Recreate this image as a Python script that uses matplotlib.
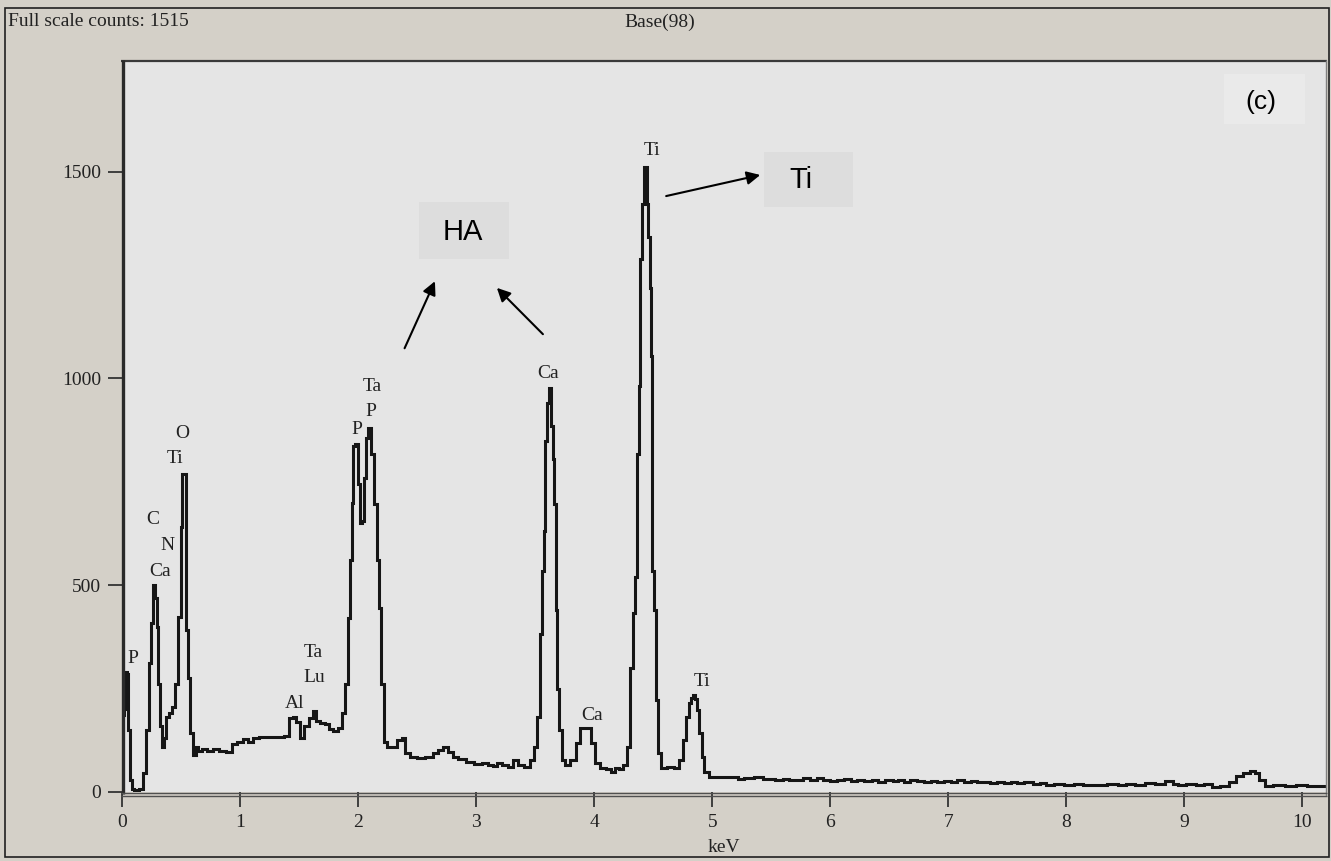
import matplotlib
matplotlib.use("Agg")
import matplotlib.pyplot as plt
from matplotlib.patches import Rectangle
from matplotlib.lines import Line2D

# ---------------- data ----------------
energy_kev = [
    0.000, 0.008, 0.025, 0.035, 0.050, 0.060, 0.072, 0.090, 0.120, 0.160,
    0.195, 0.220, 0.237, 0.254, 0.270, 0.288, 0.297, 0.314, 0.330, 0.347,
    0.364, 0.381, 0.415, 0.440, 0.466, 0.490, 0.505, 0.517, 0.534, 0.542,
    0.550, 0.568, 0.585, 0.610, 0.636, 0.660, 0.700, 0.746, 0.790, 0.850,
    0.907, 0.950, 1.000, 1.050, 1.085, 1.127, 1.186, 1.254, 1.340, 1.400,
    1.430, 1.466, 1.490, 1.525, 1.560, 1.600, 1.630, 1.660, 1.695, 1.737,
    1.770, 1.810, 1.856, 1.880, 1.900, 1.924, 1.940, 1.950, 1.966, 1.990,
    2.008, 2.025, 2.040, 2.060, 2.076, 2.100, 2.120, 2.144, 2.170, 2.186,
    2.210, 2.237, 2.254, 2.305, 2.356, 2.380, 2.415, 2.466, 2.525, 2.610,
    2.660, 2.695, 2.740, 2.780, 2.820, 2.880, 2.950, 3.017, 3.076, 3.120,
    3.160, 3.200, 3.246, 3.290, 3.330, 3.373, 3.430, 3.480, 3.500, 3.525,
    3.550, 3.568, 3.576, 3.593, 3.610, 3.627, 3.644, 3.653, 3.670, 3.678,
    3.695, 3.710, 3.737, 3.770, 3.820, 3.864, 3.898, 3.950, 3.990, 4.025,
    4.076, 4.120, 4.160, 4.195, 4.230, 4.263, 4.288, 4.314, 4.340, 4.356,
    4.373, 4.380, 4.390, 4.415, 4.424, 4.440, 4.450, 4.466, 4.475, 4.483,
    4.500, 4.517, 4.534, 4.550, 4.585, 4.644, 4.703, 4.737, 4.763, 4.788,
    4.814, 4.830, 4.847, 4.864, 4.873, 4.900, 4.924, 4.940, 5.000, 5.100,
    5.195, 5.237, 5.300, 5.407, 5.450, 5.490, 5.576, 5.620, 5.680, 5.746,
    5.800, 5.860, 5.915, 5.970, 6.030, 6.085, 6.150, 6.200, 6.254, 6.320,
    6.380, 6.424, 6.500, 6.560, 6.593, 6.650, 6.700, 6.763, 6.830, 6.880,
    6.932, 7.000, 7.050, 7.100, 7.170, 7.220, 7.270, 7.330, 7.380, 7.440,
    7.500, 7.560, 7.610, 7.680, 7.750, 7.800, 7.864, 7.930, 8.030, 8.100,
    8.180, 8.290, 8.400, 8.470, 8.540, 8.620, 8.710, 8.800, 8.880, 8.920,
    8.970, 9.050, 9.140, 9.200, 9.260, 9.350, 9.410, 9.470, 9.530, 9.580,
    9.610, 9.660, 9.710, 9.800, 9.900, 10.000, 10.070, 10.200,
]
counts = [
    0, 185, 200, 290, 285, 150, 30, 8, 4, 7,
    46, 150, 313, 408, 500, 470, 400, 262, 160, 108,
    130, 181, 190, 205, 262, 423, 640, 769, 769, 692,
    391, 275, 142, 89, 108, 100, 104, 100, 104, 100,
    97, 115, 120, 128, 122, 130, 133, 133, 133, 135,
    178, 182, 170, 130, 160, 180, 195, 172, 168, 165,
    152, 148, 155, 190, 262, 420, 560, 700, 837, 841,
    744, 651, 655, 760, 856, 880, 817, 697, 560, 446,
    262, 120, 108, 110, 125, 130, 94, 85, 82, 85,
    95, 101, 108, 97, 85, 80, 72, 68, 70, 65,
    62, 70, 65, 60, 77, 65, 60, 77, 108, 181,
    383, 535, 632, 849, 940, 977, 885, 805, 697, 439,
    250, 150, 77, 65, 77, 118, 154, 154, 118, 70,
    58, 55, 48, 58, 55, 65, 108, 301, 432, 520,
    817, 981, 1290, 1423, 1512, 1512, 1423, 1343, 1218, 1054,
    535, 439, 222, 94, 58, 60, 58, 77, 125, 181,
    215, 227, 234, 225, 198, 142, 85, 48, 36, 36,
    36, 32, 34, 36, 31, 32, 29, 32, 28, 30,
    33, 29, 34, 30, 27, 29, 31, 26, 30, 27,
    29, 25, 28, 26, 29, 25, 28, 26, 24, 27,
    24, 27, 25, 28, 24, 26, 23, 25, 22, 24,
    21, 23, 21, 24, 20, 22, 18, 20, 18, 20,
    17, 17, 19, 17, 20, 18, 22, 19, 27, 20,
    17, 19, 17, 19, 13, 15, 24, 38, 46, 51,
    46, 30, 14, 16, 15, 16, 14, 15,
]

x_ticks = [0, 1, 2, 3, 4, 5, 6, 7, 8, 9, 10]
y_ticks = [0, 500, 1000, 1500]

peak_labels = ["P", "C", "N", "Ca", "O", "Ti", "Al", "Ta", "Lu",
               "P", "Ta", "P", "Ca", "Ti", "Ca", "Ti"]
label_kev = [0.093, 0.263, 0.381, 0.322, 0.508, 0.449, 1.466, 1.619, 1.627,
             1.992, 2.119, 2.110, 3.610, 4.490, 3.983, 4.915]
label_cnt = [324, 660, 597, 532, 868, 807, 215, 338, 278,
             877, 981, 921, 1013, 1552, 186, 266]

# ---------------- figure ----------------
W, H = 1331, 861
OUTER = "#D4D0C8"
PLOTBG = "#E5E5E5"
fig = plt.figure(figsize=(W / 100, H / 100), dpi=100, facecolor=OUTER)

def fx(px):
    return px / W

def fy(py):
    return (H - py) / H

ax_l, ax_r, ax_t, ax_b = 122, 1326, 60, 792
ax = fig.add_axes([fx(ax_l), fy(ax_b), (ax_r - ax_l) / W, (ax_b - ax_t) / H])
ax.set_facecolor(PLOTBG)
ax.set_xlim(0, 10.2)
ax.set_ylim(0, 1770)

ax.plot(energy_kev, counts, color="#161616", lw=2.2, drawstyle="steps-mid",
        solid_joinstyle="miter")

serif = ["Liberation Serif", "DejaVu Serif"]
sans = ["Liberation Sans", "DejaVu Sans"]

ax.set_xticks(x_ticks)
ax.set_yticks(y_ticks)
ax.set_xticklabels([str(v) for v in x_ticks], family=serif, fontsize=14, color="#222222")
ax.set_yticklabels([str(v) for v in y_ticks], family=serif, fontsize=14, color="#222222")
ax.tick_params(axis="y", direction="out", length=10, width=1.3, color="#333333", pad=5)
ax.tick_params(axis="x", direction="out", length=11, width=1.3, color="#333333", pad=5)

for s in ax.spines.values():
    s.set_visible(False)

# frame lines (figure pixels)
def hline(y, x0, x1, color, lw):
    fig.add_artist(Line2D([fx(x0), fx(x1)], [fy(y), fy(y)], color=color, lw=lw,
                          transform=fig.transFigure, solid_capstyle="butt"))

def vline(x, y0, y1, color, lw):
    fig.add_artist(Line2D([fx(x), fx(x)], [fy(y0), fy(y1)], color=color, lw=lw,
                          transform=fig.transFigure, solid_capstyle="butt"))

hline(61, 121, 1327, "#3a3a3a", 1.6)        # top
vline(123, 60, 794, "#2a2a2a", 2.4)         # left
vline(1326, 60, 796, "#808080", 1.0)        # right
hline(792.5, 121, 1327, "#505050", 1.0)     # bottom (double)
hline(795.5, 121, 1327, "#505050", 1.0)

# outer border
fig.add_artist(Rectangle((fx(5), fy(857)), fx(1329) - fx(5), fy(8) - fy(857),
                         fill=False, edgecolor="#202020", lw=1.2,
                         transform=fig.transFigure))

# header texts
fig.text(fx(8), fy(22), "Full scale counts: 1515", family=serif, fontsize=14,
         color="#222222", ha="left", va="center")
fig.text(fx(660), fy(22), "Base(98)", family=serif, fontsize=14,
         color="#222222", ha="center", va="center")
fig.text(fx(724), fy(847), "keV", family=serif, fontsize=14,
         color="#222222", ha="center", va="center")

# peak labels
for lab, xk, yc in zip(peak_labels, label_kev, label_cnt):
    ax.text(xk, yc, lab, family=serif, fontsize=14, color="#222222",
            ha="center", va="center")

# annotation boxes
ax.add_patch(Rectangle((2.517, 1288), 3.280 - 2.517, 1426 - 1288,
                       facecolor="#DDDDDD", edgecolor="none"))
ax.text(2.89, 1354, "HA", family=sans, fontsize=21, color="black",
        ha="center", va="center")
ax.add_patch(Rectangle((5.44, 1414), 6.195 - 5.44, 1547 - 1414,
                       facecolor="#DDDDDD", edgecolor="none"))
ax.text(5.75, 1479, "Ti", family=sans, fontsize=21, color="black",
        ha="center", va="center")
ax.add_patch(Rectangle((9.34, 1615), 10.025 - 9.34, 1736 - 1615,
                       facecolor="#EAEAEA", edgecolor="none"))
ax.text(9.65, 1668, "(c)", family=sans, fontsize=19, color="black",
        ha="center", va="center")

arrow_kw = dict(arrowstyle="-|>", color="black", lw=1.5, mutation_scale=20,
                shrinkA=0, shrinkB=0)
ax.annotate("", xy=(2.651, 1235), xytext=(2.394, 1073), arrowprops=arrow_kw)
ax.annotate("", xy=(3.176, 1219), xytext=(3.566, 1107), arrowprops=arrow_kw)
ax.annotate("", xy=(5.407, 1492), xytext=(4.610, 1441), arrowprops=arrow_kw)

fig.savefig("out.png", dpi=100, facecolor=OUTER)
